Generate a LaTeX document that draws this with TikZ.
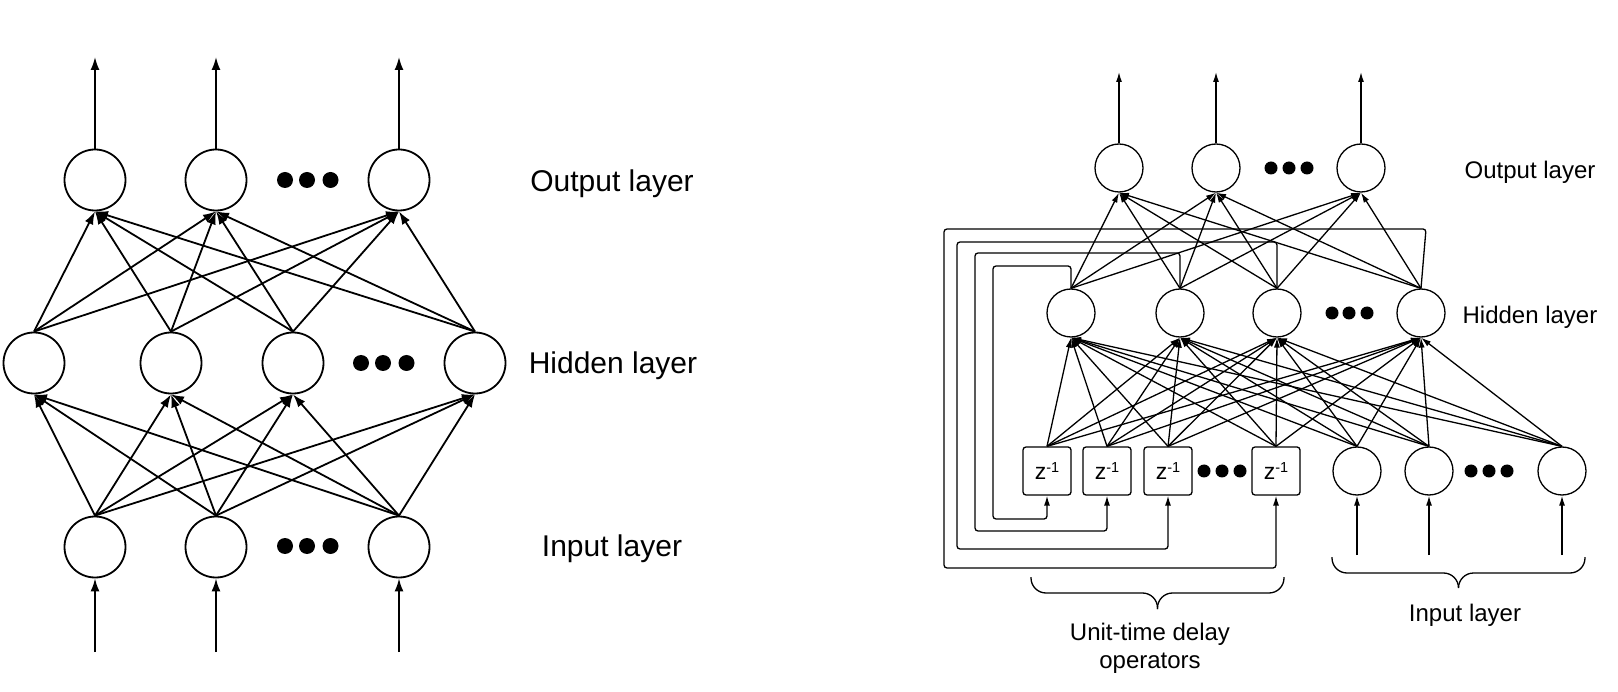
\documentclass[tikz,border=0pt]{standalone}
\usepackage{fontspec}
\setmainfont{Liberation Sans}
\usetikzlibrary{arrows.meta,shapes.geometric}
\begin{document}
\begin{tikzpicture}[x=1pt,y=-1pt,
  lnode/.style={circle,draw,line width=1.8pt,minimum size=61pt,inner sep=0pt,fill=white},
  rnode/.style={circle,draw,line width=1.3pt,minimum size=48pt,inner sep=0pt,fill=white},
  zbox/.style={rectangle,rounded corners=3pt,draw,line width=1.3pt,minimum size=48pt,inner sep=0pt,fill=white,
    font=\fontsize{23}{26}\selectfont},
  ldot/.style={circle,fill=black,minimum size=16pt,inner sep=0pt},
  rdot/.style={circle,fill=black,minimum size=13pt,inner sep=0pt},
  larrow/.style={line width=1.8pt,-{Latex[length=13pt,width=9pt]}},
  rarrow/.style={line width=1.3pt,-{Latex[length=10pt,width=6pt]}},
  rline/.style={line width=1.3pt},
  llabel/.style={font=\fontsize{30}{36}\selectfont,inner sep=0pt},
  rlabel/.style={font=\fontsize{24}{29}\selectfont,inner sep=0pt},
  blabel/.style={font=\fontsize{24}{28}\selectfont,inner sep=0pt,align=center}
]
\useasboundingbox (0,0) rectangle (1618,692);

% ---------------- Left network ----------------
\foreach \n/\x in {1/95,2/216,3/399}{
  \node[lnode] (O\n) at (\x,180) {};
  \node[lnode] (I\n) at (\x,547) {};
  \coordinate (ot\n) at (\x,57);
  \coordinate (ib\n) at (\x,652);
}
\foreach \n/\x in {1/34,2/171,3/293,4/475}
  \node[lnode] (H\n) at (\x,363) {};

\foreach \n/\x in {1/285,2/307,3/330.5}{
  \node[ldot] (od\n) at (\x,180) {};
  \node[ldot] (id\n) at (\x,546) {};
}
\foreach \n/\x in {1/361,2/383,3/406.5}
  \node[ldot] (hd\n) at (\x,363) {};

\foreach \n in {1,2,3}{
  \draw[larrow] (O\n.north) -- (ot\n);
  \draw[larrow] (ib\n) -- (I\n.south);
}
\foreach \i in {1,2,3}
  \foreach \j in {1,...,4}
    \draw[larrow] (I\i.north) -- (H\j.south);
\foreach \i in {1,...,4}
  \foreach \j in {1,2,3}
    \draw[larrow] (H\i.north) -- (O\j.south);

\node[llabel] (lo) at (612,184) {Output layer};
\node[llabel] (lh) at (613,366) {Hidden layer};
\node[llabel] (li) at (612,549) {Input layer};

% ---------------- Right network ----------------
\foreach \n/\x in {1/1119,2/1216,3/1361}{
  \node[rnode] (RO\n) at (\x,168) {};
  \coordinate (rot\n) at (\x,72);
}
\foreach \n/\x in {1/1071,2/1180,3/1277,4/1421}
  \node[rnode] (RH\n) at (\x,313) {};
\foreach \n/\x in {1/1047,2/1107,3/1168,4/1276}
  \node[zbox] (Z\n) at (\x,471) {z\raisebox{7pt}{\fontsize{14.5}{17}\selectfont -1}};
\foreach \n/\x in {1/1357,2/1429,3/1562}{
  \node[rnode] (RI\n) at (\x,471) {};
  \coordinate (rib\n) at (\x,555);
}

\foreach \n/\x in {1/1271,2/1289,3/1307}
  \node[rdot] (rod\n) at (\x,168) {};
\foreach \n/\x in {1/1332,2/1349,3/1367}
  \node[rdot] (rhd\n) at (\x,313) {};
\foreach \n/\x in {1/1204,2/1222,3/1240}
  \node[rdot] (zd\n) at (\x,471) {};
\foreach \n/\x in {1/1471,2/1489,3/1507}
  \node[rdot] (rid\n) at (\x,471) {};

\foreach \n in {1,2,3}{
  \draw[rarrow] (RO\n.north) -- (rot\n);
  \draw[rarrow] (rib\n) -- (RI\n.south);
}
\foreach \i in {1,...,4}
  \foreach \j in {1,2,3}
    \draw[rarrow] (RH\i.north) -- (RO\j.south);
\foreach \i in {1,...,4}
  \foreach \j in {1,...,4}
    \draw[rarrow] (Z\i.north) -- (RH\j.south);
\foreach \i in {1,2,3}
  \foreach \j in {1,...,4}
    \draw[rarrow] (RI\i.north) -- (RH\j.south);

% feedback loops
\draw[rarrow,rounded corners=3pt] (RH1.north) -- (1071,266) -- (993,266) -- (993,519) -- (1047,519) -- (Z1.south);
\draw[rarrow,rounded corners=3pt] (RH2.north) -- (1180,253) -- (975,253) -- (975,531) -- (1107,531) -- (Z2.south);
\draw[rarrow,rounded corners=3pt] (RH3.north) -- (1277,242) -- (957,242) -- (957,549) -- (1168,549) -- (Z3.south);
\draw[rarrow,rounded corners=3pt] (RH4.north) -- (1426,229) -- (944,229) -- (944,568) -- (1276,568) -- (Z4.south);

% braces
\draw[rline,rounded corners=15pt] (1031,577) -- (1031,593) -- (1157.5,593) -- (1157.5,609);
\draw[rline,rounded corners=15pt] (1284,577) -- (1284,593) -- (1157.5,593) -- (1157.5,609);
\draw[rline,rounded corners=15pt] (1332,557) -- (1332,573) -- (1458.5,573) -- (1458.5,588);
\draw[rline,rounded corners=15pt] (1585,557) -- (1585,573) -- (1458.5,573) -- (1458.5,588);

\node[rlabel] (ro) at (1530,172) {Output layer};
\node[rlabel] (rh) at (1530,317) {Hidden layer};
\node[blabel] (ri) at (1465,615) {Input layer};
\node[blabel] (rz) at (1150,648) {Unit-time delay\\operators};
\end{tikzpicture}
\end{document}
